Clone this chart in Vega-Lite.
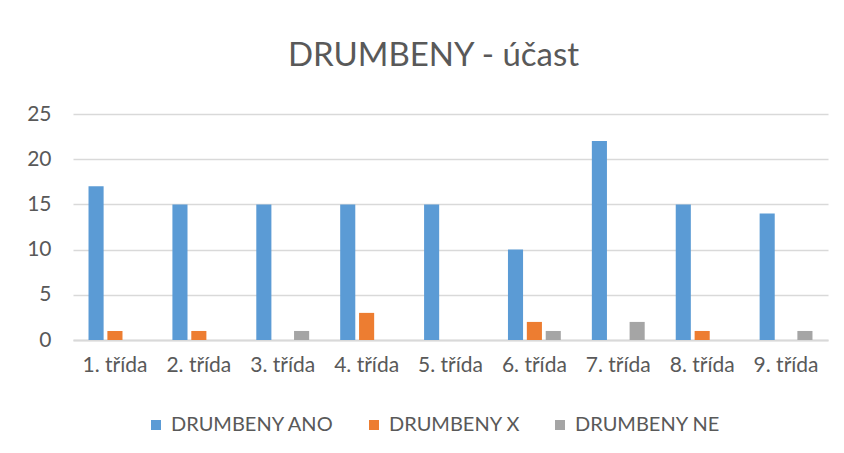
{
  "$schema": "https://vega.github.io/schema/vega-lite/v6.json",
  "autosize": {"type": "none"},
  "width": 755,
  "height": 226,
  "padding": {"left": 73, "top": 114, "right": 16, "bottom": 113},
  "background": "white",
  "title": {
    "text": "DRUMBENY - účast",
    "fontSize": 33,
    "fontWeight": "normal",
    "font": "Lato",
    "color": "#595959",
    "anchor": "middle",
    "offset": 30,
    "dx": -17
  },
  "data": {
    "values": [
      {"trida": "1. třída", "serie": "DRUMBENY ANO", "pocet": 17},
      {"trida": "1. třída", "serie": "DRUMBENY X", "pocet": 1},
      {"trida": "1. třída", "serie": "DRUMBENY NE", "pocet": 0},
      {"trida": "2. třída", "serie": "DRUMBENY ANO", "pocet": 15},
      {"trida": "2. třída", "serie": "DRUMBENY X", "pocet": 1},
      {"trida": "2. třída", "serie": "DRUMBENY NE", "pocet": 0},
      {"trida": "3. třída", "serie": "DRUMBENY ANO", "pocet": 15},
      {"trida": "3. třída", "serie": "DRUMBENY X", "pocet": 0},
      {"trida": "3. třída", "serie": "DRUMBENY NE", "pocet": 1},
      {"trida": "4. třída", "serie": "DRUMBENY ANO", "pocet": 15},
      {"trida": "4. třída", "serie": "DRUMBENY X", "pocet": 3},
      {"trida": "4. třída", "serie": "DRUMBENY NE", "pocet": 0},
      {"trida": "5. třída", "serie": "DRUMBENY ANO", "pocet": 15},
      {"trida": "5. třída", "serie": "DRUMBENY X", "pocet": 0},
      {"trida": "5. třída", "serie": "DRUMBENY NE", "pocet": 0},
      {"trida": "6. třída", "serie": "DRUMBENY ANO", "pocet": 10},
      {"trida": "6. třída", "serie": "DRUMBENY X", "pocet": 2},
      {"trida": "6. třída", "serie": "DRUMBENY NE", "pocet": 1},
      {"trida": "7. třída", "serie": "DRUMBENY ANO", "pocet": 22},
      {"trida": "7. třída", "serie": "DRUMBENY X", "pocet": 0},
      {"trida": "7. třída", "serie": "DRUMBENY NE", "pocet": 2},
      {"trida": "8. třída", "serie": "DRUMBENY ANO", "pocet": 15},
      {"trida": "8. třída", "serie": "DRUMBENY X", "pocet": 1},
      {"trida": "8. třída", "serie": "DRUMBENY NE", "pocet": 0},
      {"trida": "9. třída", "serie": "DRUMBENY ANO", "pocet": 14},
      {"trida": "9. třída", "serie": "DRUMBENY X", "pocet": 0},
      {"trida": "9. třída", "serie": "DRUMBENY NE", "pocet": 1}
    ]
  },
  "mark": {"type": "bar"},
  "encoding": {
    "x": {
      "field": "trida",
      "type": "nominal",
      "sort": null,
      "scale": {"paddingInner": 0.37, "paddingOuter": 0.185},
      "axis": {
        "title": null,
        "labelAngle": 0,
        "labelFont": "Lato",
        "labelFontSize": 21,
        "labelColor": "#595959",
        "labelPadding": 14,
        "ticks": false,
        "domain": true,
        "domainColor": "#D9D9D9",
        "domainWidth": 2,
        "grid": false
      }
    },
    "xOffset": {
      "field": "serie",
      "type": "nominal",
      "sort": ["DRUMBENY ANO", "DRUMBENY X", "DRUMBENY NE"],
      "scale": {"paddingInner": 0.2, "paddingOuter": 0}
    },
    "y": {
      "field": "pocet",
      "type": "quantitative",
      "scale": {"domain": [0, 25]},
      "axis": {
        "title": null,
        "values": [0, 5, 10, 15, 20, 25],
        "labelFont": "Lato",
        "labelFontSize": 21,
        "labelColor": "#595959",
        "labelPadding": 22,
        "ticks": false,
        "domain": false,
        "grid": true,
        "gridColor": "#D9D9D9",
        "gridWidth": 1.3
      }
    },
    "color": {
      "field": "serie",
      "type": "nominal",
      "sort": ["DRUMBENY ANO", "DRUMBENY X", "DRUMBENY NE"],
      "scale": {
        "domain": ["DRUMBENY ANO", "DRUMBENY X", "DRUMBENY NE"],
        "range": ["#5B9BD5", "#ED7D31", "#A5A5A5"]
      },
      "legend": {
        "title": null,
        "orient": "none",
        "direction": "horizontal",
        "legendX": 73,
        "legendY": 301,
        "padding": 0,
        "symbolType": "square",
        "symbolSize": 100,
        "symbolStrokeWidth": 0,
        "labelFont": "Lato",
        "labelFontSize": 20,
        "labelColor": "#595959",
        "labelOffset": 5,
        "labelLimit": 400,
        "columnPadding": 29
      }
    }
  },
  "config": {
    "view": {"stroke": null}
  }
}
